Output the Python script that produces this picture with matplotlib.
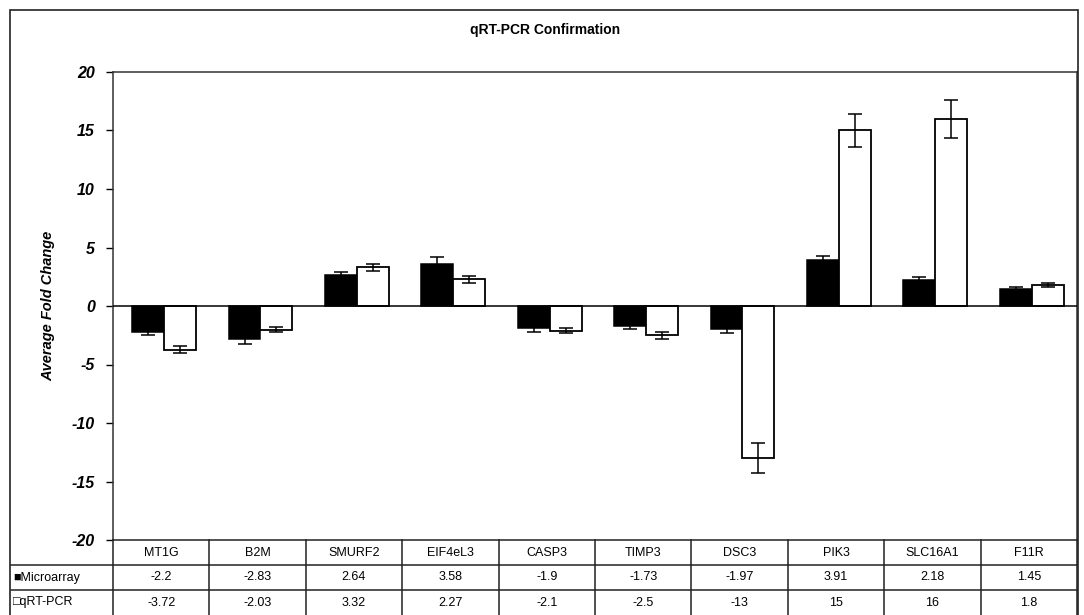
import numpy as np
import matplotlib
matplotlib.use("Agg")
from matplotlib import pyplot as plt
from matplotlib.patches import Rectangle
from matplotlib.lines import Line2D
from matplotlib.transforms import blended_transform_factory

plt.rcParams['font.family'] = ['Liberation Sans', 'DejaVu Sans']

genes = ['MT1G', 'B2M', 'SMURF2', 'EIF4eL3', 'CASP3', 'TIMP3', 'DSC3', 'PIK3', 'SLC16A1', 'F11R']
microarray = [-2.2, -2.83, 2.64, 3.58, -1.9, -1.73, -1.97, 3.91, 2.18, 1.45]
qrtpcr = [-3.72, -2.03, 3.32, 2.27, -2.1, -2.5, -13, 15, 16, 1.8]
# error bars
micro_err = [0.3, 0.4, 0.3, 0.6, 0.3, 0.2, 0.3, 0.4, 0.3, 0.15]
qpcr_err = [0.3, 0.2, 0.3, 0.3, 0.2, 0.3, 1.3, 1.4, 1.6, 0.2]
row_labels = ['\u25a0Microarray', '\u25a1qRT-PCR']
yticks = [-20, -15, -10, -5, 0, 5, 10, 15, 20]

W, H = 1084, 615
fig = plt.figure(figsize=(W / 100, H / 100), dpi=100)

def fx(px):
    return px / W

def fy(py):
    return 1 - py / H

# outer frame
fig.patches.append(Rectangle((fx(10), fy(620)), fx(1068), fy(10) - fy(620),
                             transform=fig.transFigure, fill=False,
                             edgecolor='#222222', linewidth=1.2))

ax = fig.add_axes([fx(113), fy(540), fx(1077) - fx(113), fy(72) - fy(540)])
x = np.arange(len(genes)) + 0.53
w = 0.33
ekw = dict(elinewidth=1.1, capthick=1.1)
ax.bar(x - w / 2, microarray, w, color='black', edgecolor='black', linewidth=1.1,
       yerr=micro_err, capsize=5, error_kw=ekw, zorder=3)
ax.bar(x + w / 2, qrtpcr, w, color='white', edgecolor='black', linewidth=1.3,
       yerr=qpcr_err, capsize=5, error_kw=ekw, zorder=3)
ax.axhline(0, color='black', linewidth=1.1, zorder=4)

ax.set_xlim(0, len(genes))
ax.set_ylim(-20, 20)
ax.set_yticks(yticks)
ax.set_yticklabels([str(t) for t in yticks], fontsize=11.5, fontweight='bold', style='italic')
ax.set_xticks([])
ax.tick_params(axis='y', direction='out', length=5, width=1, pad=8)
for s in ax.spines.values():
    s.set_color('#333333')
    s.set_linewidth(1.1)
ax.spines['bottom'].set_visible(False)
ax.set_ylabel('Average Fold Change', fontsize=10.5, fontweight='bold', style='italic', labelpad=12)

fig.text(0.503, fy(30), 'qRT-PCR Confirmation', ha='center', va='center',
         fontsize=10, fontweight='bold')

# data table under the axes
tr = blended_transform_factory(ax.transData, fig.transFigure)
x_left = (fx(11) - fx(113)) / (fx(1077) - fx(113)) * len(genes)
rows_y = [fy(540), fy(565), fy(590), fy(615)]
n = len(genes)

def hline(x0, x1, y):
    fig.add_artist(Line2D([x0, x1], [y, y], transform=tr, color='#222222', linewidth=1.1))

def vline(xv, y0, y1):
    fig.add_artist(Line2D([xv, xv], [y0, y1], transform=tr, color='#222222', linewidth=1.1))

hline(0, n, rows_y[0])
hline(x_left, n, rows_y[1])
hline(x_left, n, rows_y[2])
for i in range(n + 1):
    vline(i, rows_y[0], rows_y[3])

for i, g in enumerate(genes):
    fig.text(i + 0.5, (rows_y[0] + rows_y[1]) / 2, g, transform=tr,
             ha='center', va='center', fontsize=9)
for r, vals in enumerate([microarray, qrtpcr]):
    yc = (rows_y[r + 1] + rows_y[r + 2]) / 2
    fig.text(x_left + 0.02, yc, row_labels[r], transform=tr, ha='left', va='center',
             fontsize=9)
    for i, v in enumerate(vals):
        fig.text(i + 0.5, yc, '{:g}'.format(v), transform=tr,
                 ha='center', va='center', fontsize=9)

fig.savefig('out.png', dpi=100)
